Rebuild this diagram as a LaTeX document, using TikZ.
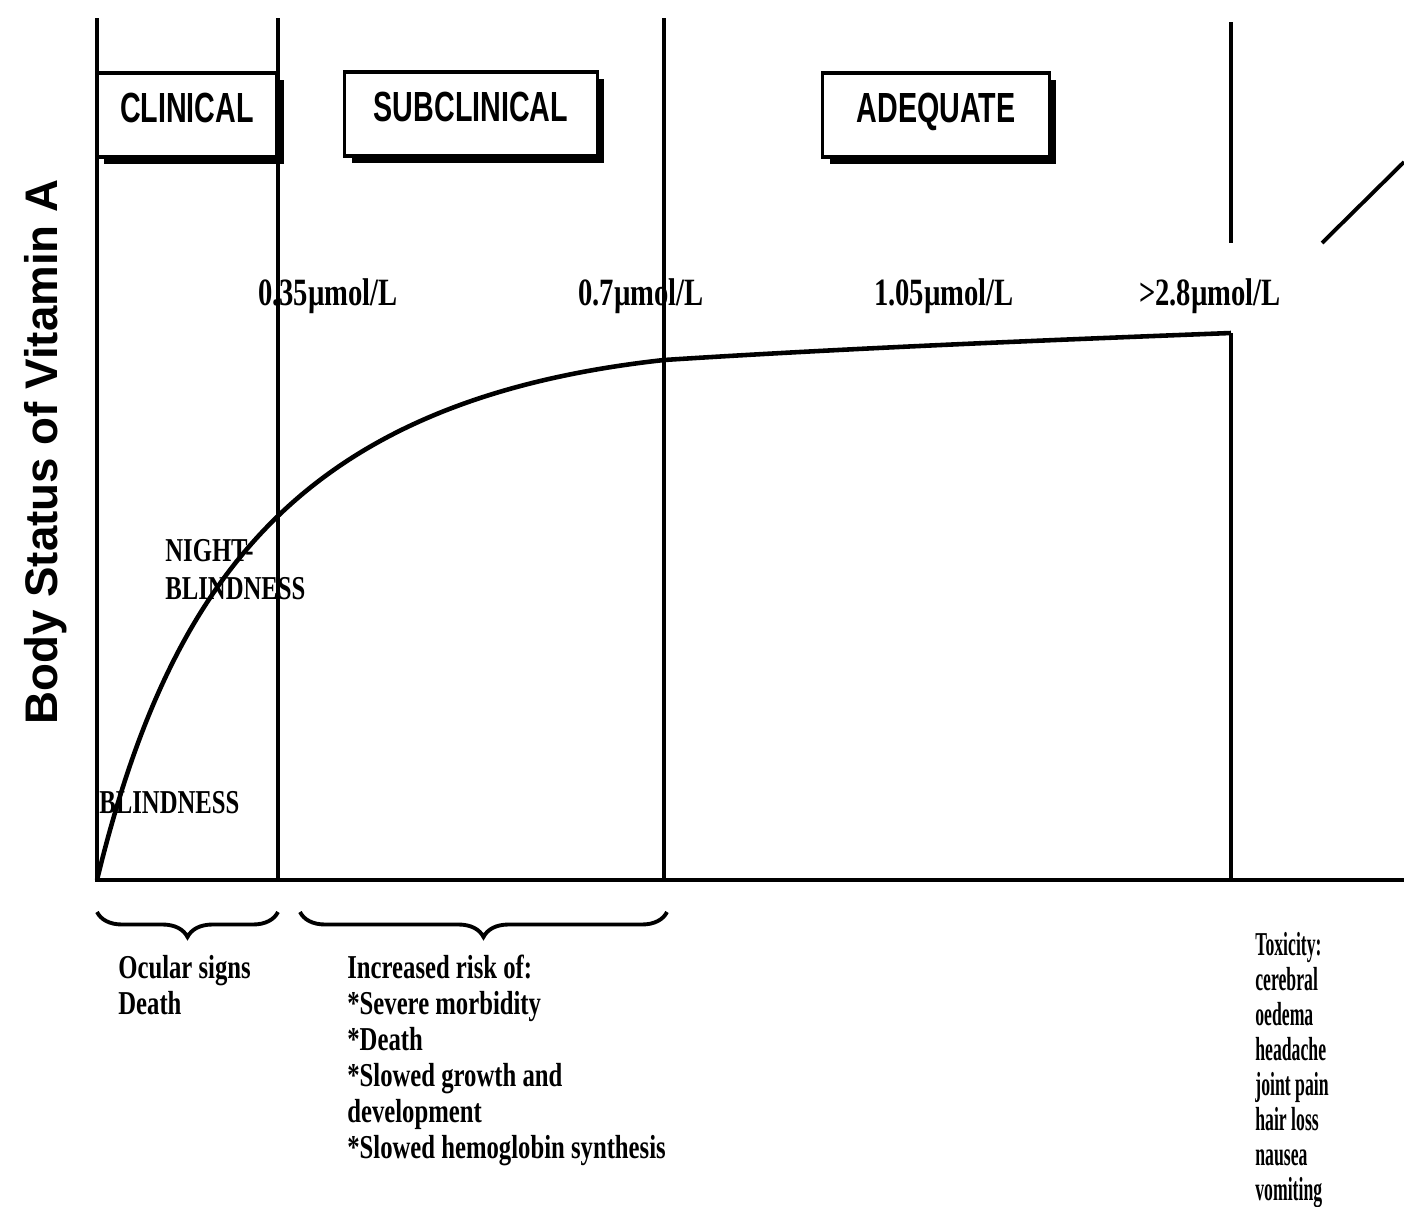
\documentclass[tikz,border=0pt]{standalone}
\usepackage{fontspec}
\setmainfont{Liberation Serif}
\newfontfamily\condfont[FakeStretch=0.74]{Liberation Serif}
\newfontfamily\toxfont[FakeStretch=0.53]{Liberation Serif}
\newfontfamily\boxfont[FakeStretch=0.68]{Liberation Sans}
\newfontfamily\axisfont{Liberation Sans}
\usetikzlibrary{decorations.pathreplacing,shadows}

\begin{document}
\begin{tikzpicture}[x=0.02cm, y=-0.02cm,
        axis/.style={line width=2.2pt},
        curve/.style={line width=2.6pt},
        stage/.style={draw=black, line width=2pt, fill=white, inner xsep=0pt, inner ysep=0.2cm,
            text height=0.78cm, text depth=0.5cm, font=\boxfont\bfseries\fontsize{24}{28}\selectfont,
            drop shadow={shadow xshift=0.14cm, shadow yshift=-0.14cm, opacity=1, fill=black}},
        level/.style={font=\condfont\bfseries\fontsize{22}{26}\selectfont, inner sep=0pt, anchor=base},
        note/.style={font=\condfont\bfseries\fontsize{19}{20.5}\selectfont, align=left, inner sep=0pt, anchor=north west},
        brace/.style={decorate, decoration={brace, mirror, amplitude=0.5cm}, line width=2.2pt}]
        \useasboundingbox (0,0) rectangle (1404,1207);

        \coordinate (origin) at (97,880);
        \coordinate (xend) at (1404,880);
        \coordinate (top) at (97,18);
        \coordinate (peak) at (1231,333);

        \draw[axis] (top) -- (origin) -- (xend);
        \foreach \x in {278,664}
            \draw[axis] (\x,18) -- (\x,880);
        \draw[axis] (1231,22) -- (1231,243);
        \draw[axis] (peak) -- (1231,880);
        \draw[axis] (1322,243) -- (1404,162);

        \draw[curve] (origin) .. controls (170,580) and (300,400) .. (664,360)
            .. controls (850,348) and (1050,340) .. (peak);

        \node[stage, minimum width=3.6cm] (clinical) at (187,115) {CLINICAL};
        \node[stage, minimum width=5.06cm] (subclinical) at (471,114) {SUBCLINICAL};
        \node[stage, minimum width=4.54cm] (adequate) at (936,115) {ADEQUATE};

        \node[level] (l035) at (328,305) {0.35µmol/L};
        \node[level] (l07) at (641,305) {0.7µmol/L};
        \node[level] (l105) at (944,305) {1.05µmol/L};
        \node[level] (l28) at (1210,305) {>2.8µmol/L};

        \node[note, font=\condfont\bfseries\fontsize{19}{21.5}\selectfont] (night) at (165,539) {NIGHT-\\BLINDNESS};
        \node[note, anchor=base west] (blind) at (99,813) {BLINDNESS};

        \node[rotate=90, font=\axisfont\bfseries\fontsize{26}{30}\selectfont] (ylabel) at (46,452) {Body Status of Vitamin A};

        \draw[brace] (97,912) -- (278,912);
        \draw[brace] (300,912) -- (667,912);

        \node[note] (ocular) at (118,955) {Ocular signs\\Death};
        \node[note] (risk) at (347,955) {Increased risk of:\\*Severe morbidity\\*Death\\*Slowed growth and\\development\\*Slowed hemoglobin synthesis};
        \node[note, font=\toxfont\bfseries\fontsize{19}{19.9}\selectfont] (toxicity) at (1255,932) {Toxicity:\\cerebral\\oedema\\headache\\joint pain\\hair loss\\nausea\\vomiting};
    \end{tikzpicture}
\end{document}
